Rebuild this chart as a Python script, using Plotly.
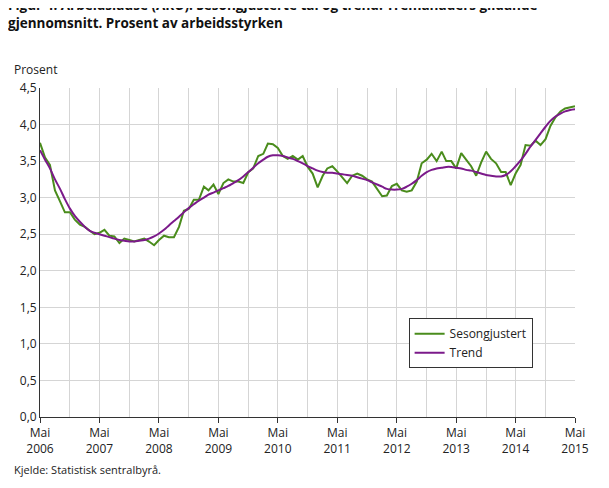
import plotly.graph_objects as go
import pandas as pd

dates = pd.date_range("2006-05-01", "2015-05-01", freq="MS")
sesong = [3.75,3.55,3.45,3.1,2.95,2.8,2.8,2.7,
 2.63,2.6,2.55,2.5,2.52,2.56,2.48,2.47,2.38,2.44,2.42,2.4,
 2.42,2.44,2.4,2.35,2.42,2.48,2.46,2.46,2.6,2.82,2.85,2.97,
 2.97,3.15,3.1,3.18,3.05,3.2,3.25,3.22,3.22,3.2,3.35,3.4,
 3.57,3.6,3.74,3.73,3.68,3.57,3.53,3.57,3.52,3.57,3.42,3.33,
 3.14,3.3,3.4,3.43,3.36,3.28,3.2,3.3,3.33,3.3,3.25,3.22,
 3.12,3.02,3.03,3.16,3.19,3.1,3.08,3.1,3.22,3.47,3.52,3.6,
 3.5,3.63,3.5,3.5,3.4,3.61,3.52,3.43,3.3,3.48,3.63,3.53,
 3.47,3.35,3.35,3.17,3.33,3.45,3.72,3.71,3.78,3.72,3.8,3.98,
 4.1,4.18,4.22,4.24,4.25]
trend = [3.65,3.52,3.4,3.25,3.12,2.98,2.85,2.75,
 2.67,2.6,2.55,2.52,2.5,2.48,2.46,2.44,2.42,2.41,2.4,2.4,
 2.41,2.42,2.44,2.47,2.51,2.56,2.62,2.68,2.74,2.8,2.86,2.91,
 2.96,3.0,3.04,3.07,3.1,3.13,3.16,3.2,3.24,3.29,3.35,3.41,
 3.47,3.52,3.56,3.58,3.58,3.57,3.55,3.53,3.5,3.47,3.43,3.4,
 3.37,3.35,3.34,3.34,3.33,3.32,3.31,3.3,3.28,3.26,3.24,3.21,
 3.18,3.15,3.12,3.11,3.11,3.12,3.15,3.19,3.24,3.3,3.35,3.38,
 3.4,3.41,3.42,3.42,3.41,3.4,3.38,3.37,3.35,3.33,3.31,3.3,
 3.29,3.29,3.31,3.36,3.43,3.51,3.6,3.7,3.79,3.88,3.97,4.05,
 4.11,4.15,4.18,4.2,4.21]
years = list(range(2006, 2016))
tick_labels = [f"Mai<br>{y}" for y in years]
y_ticks = [0, 0.5, 1, 1.5, 2, 2.5, 3, 3.5, 4, 4.5]
y_labels = [f"{v:.1f}".replace(".", ",") for v in y_ticks]

fig = go.Figure()
fig.add_trace(go.Scatter(x=dates, y=sesong, mode="lines", name="Sesongjustert",
                         line=dict(color="#4a8c1c", width=2)))
fig.add_trace(go.Scatter(x=dates, y=trend, mode="lines", name="Trend",
                         line=dict(color="#7b1a8a", width=2, shape="spline")))
fig.update_layout(
    width=593, height=472, plot_bgcolor="white", paper_bgcolor="white",
    font=dict(family="Open Sans", size=12, color="#222"),
    margin=dict(l=29, r=18, t=80, b=63),
    title=dict(text="<b>Figur 4. Arbeidslause (AKU). Sesongjusterte tal og trend. Tremånaders glidande<br>gjennomsnitt. Prosent av arbeidsstyrken</b>",
               x=0.0, xanchor="left", y=0.995, yanchor="top", font=dict(size=13.5, color="#111")),
    legend=dict(x=0.689, y=0.30, xanchor="left", yanchor="top", bordercolor="#333", borderwidth=1,
                bgcolor="white", font=dict(size=12)),
    xaxis=dict(tickvals=[pd.Timestamp(f"{y}-05-01") for y in years], ticktext=tick_labels,
               range=[dates[0], dates[-1]], showgrid=True, gridcolor="#d5d5d5",
               minor=dict(dtick="M6", showgrid=True, gridcolor="#d5d5d5", tick0="2006-05-01"),
               ticks="outside", ticklen=5, tickcolor="#333", showline=True, linecolor="#333"),
    yaxis=dict(range=[0, 4.5], tickvals=y_ticks, ticktext=y_labels, gridcolor="#d5d5d5",
               zeroline=False, showline=True, linecolor="#333", ticks=""),
    annotations=[
        dict(text="Prosent", xref="paper", yref="paper", x=-0.053, y=1.055, xanchor="left", yanchor="middle",
             showarrow=False, font=dict(size=12)),
        dict(text="Kjelde: Statistisk sentralbyrå.", xref="paper", yref="paper", x=-0.053, y=-0.16,
             xanchor="left", yanchor="middle", showarrow=False, font=dict(size=11)),
    ],
)
fig.write_html("out.html")
